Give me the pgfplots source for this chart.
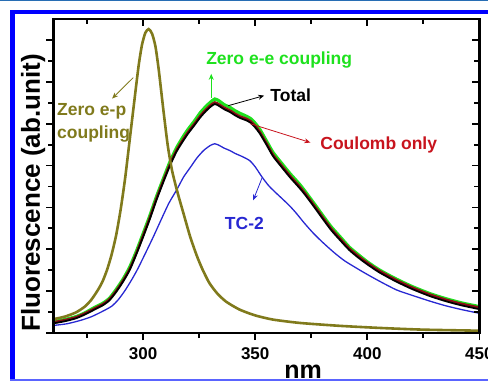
\documentclass[border=0pt]{standalone}
\usepackage{pgfplots}
\usepackage{pgfplotstable}
\pgfplotsset{compat=1.18}
\usepackage{fontspec}
\setmainfont{Liberation Sans}
\usetikzlibrary{arrows.meta}
\definecolor{olv}{RGB}{128,122,28}
\definecolor{grn}{RGB}{30,225,30}
\definecolor{rdd}{RGB}{200,20,30}
\definecolor{blu}{RGB}{40,40,210}
\definecolor{frameblue}{RGB}{0,0,255}
\definecolor{topblue}{RGB}{40,110,180}
\definecolor{botblue}{RGB}{90,100,255}

\pgfplotstableread{
x total coul zeroee
260 0.23 0.26 0.27
265 0.28 0.31 0.32
270 0.35 0.38 0.39
274 0.44 0.47 0.48
278 0.55 0.58 0.60
282 0.66 0.69 0.71
285 0.78 0.81 0.83
288 0.98 1.01 1.04
291 1.22 1.25 1.28
294 1.50 1.53 1.57
297 1.88 1.91 1.95
300 2.29 2.33 2.37
303 2.72 2.76 2.80
306 3.18 3.22 3.26
309 3.60 3.64 3.68
312 4.00 4.04 4.09
315 4.34 4.38 4.43
318 4.60 4.64 4.70
320 4.76 4.80 4.86
323 4.97 5.01 5.07
325.5 5.15 5.19 5.26
328 5.30 5.34 5.41
330 5.40 5.44 5.51
332 5.47 5.51 5.59
334 5.42 5.46 5.54
336 5.35 5.39 5.46
339 5.27 5.31 5.38
341 5.20 5.24 5.31
343.5 5.13 5.17 5.24
346 5.08 5.12 5.18
348 5.02 5.06 5.12
350 4.91 4.95 5.01
352 4.77 4.81 4.87
355 4.50 4.54 4.59
358 4.22 4.26 4.31
362 3.95 3.99 4.04
365.5 3.72 3.76 3.81
370 3.45 3.49 3.54
373 3.25 3.29 3.33
377 2.96 3.00 3.04
380.5 2.70 2.74 2.78
384 2.45 2.49 2.53
388 2.21 2.25 2.29
392 1.98 2.02 2.05
396 1.80 1.84 1.87
400 1.64 1.68 1.70
405 1.46 1.50 1.52
410 1.31 1.35 1.37
414 1.20 1.24 1.26
420 1.05 1.09 1.11
428 0.88 0.92 0.94
435 0.76 0.80 0.82
442 0.66 0.70 0.72
450 0.57 0.61 0.63
}\mixtable

\pgfplotstableread{
x y
260 0.18
266 0.22
272 0.30
277 0.39
282 0.52
286 0.64
289 0.80
292 1.02
295 1.28
297.5 1.52
301 1.90
304.5 2.29
308 2.70
311.5 3.10
315 3.42
318 3.72
321 3.95
324 4.18
327 4.36
330 4.48
332 4.52
334 4.48
336 4.42
339 4.35
341 4.29
344 4.22
347.5 4.12
350 3.97
353 3.73
356 3.52
359 3.36
362 3.21
365.5 3.03
368.5 2.85
372 2.62
376 2.38
380 2.17
385 1.93
390 1.72
398 1.46
405 1.25
413 1.03
420 0.90
428 0.76
435 0.65
442 0.56
450 0.47
}\tctwo

\pgfplotstableread{
x y
260 0.33
265 0.39
270 0.49
274 0.63
277 0.80
280 1.04
282 1.24
284 1.52
286 1.88
288 2.34
290 2.95
292 3.70
294 4.60
296 5.50
298 6.38
299.5 6.88
301 7.17
302.5 7.26
304 7.15
305.5 6.85
307 6.28
309 5.35
311 4.48
313 3.86
315.5 3.33
318 2.86
321 2.30
324 1.84
326.5 1.52
329.5 1.20
333 0.95
337 0.75
343 0.56
350 0.42
358 0.32
370 0.24
388 0.17
406 0.12
425 0.08
450 0.055
}\zeroep

\begin{document}
\begin{tikzpicture}[x=1pt,y=1pt]
\path[use as bounding box] (-53.4,-48) rectangle (434.6,333);
\begin{scope}
\clip (-53.4,-48) rectangle (434.6,333);
\begin{axis}[
  at={(0,0)}, anchor=south west,
  scale only axis, width=426pt, height=314pt,
  xmin=260, xmax=450, ymin=0, ymax=7.5,
  xtick={300,350,400,450}, minor xtick={275,325,375,425},
  ytick={0,1,2,3,4,5,6,7}, minor ytick={0.5,1.5,2.5,3.5,4.5,5.5,6.5},
  yticklabels={},
  xtick pos=left, ytick pos=left,
  tick align=outside,
  major tick length=7pt, minor tick length=5pt,
  every tick/.style={black, line width=1.8pt},
  every minor tick/.style={black, line width=1.8pt},
  axis line style={line width=2.6pt},
  /pgf/number format/assume math mode=true,
  xticklabel style={font=\bfseries\fontsize{17}{17}\selectfont, inner sep=0pt, yshift=-7pt},
  xlabel={nm},
  xlabel style={at={(axis description cs:0.586,0)}, anchor=north, yshift=-32pt, inner sep=0pt, font=\bfseries\fontsize{25}{25}\selectfont},
  ylabel={Fluorescence (ab.unit)},
  ylabel style={at={(axis description cs:-0.0315,0.446)}, anchor=base, inner sep=0pt, font=\bfseries\fontsize{26}{26}\selectfont},
  clip=true,
]
\addplot[grn, line width=3.2pt, smooth, tension=0.4] table[x=x, y=zeroee] {\mixtable};
\addplot[rdd!70!black, line width=2.2pt, smooth, tension=0.4] table[x=x, y=coul] {\mixtable};
\addplot[black, line width=1.8pt, smooth, tension=0.4] table[x=x, y=total] {\mixtable};
\addplot[blu, line width=1.3pt, smooth, tension=0.4] table[x=x, y=y] {\tctwo};
\addplot[olv, line width=2.6pt, smooth, tension=0.4] table[x=x, y=y] {\zeroep};

\node[anchor=west, align=left, text=olv, inner sep=0pt, font=\bfseries\fontsize{17.5}{23}\selectfont] at (axis cs:261.6,5.02) {Zero e-p\\coupling};
\draw[olv, line width=0.8pt, -{Stealth[length=6pt,width=5pt]}] (axis cs:295.6,6.1) -- (axis cs:286.2,5.6);
\node[anchor=center, text=grn, inner sep=0pt, font=\bfseries\fontsize{17.5}{17.5}\selectfont] at (axis cs:360.7,6.52) {Zero e-e coupling};
\draw[grn, line width=0.8pt, -{Stealth[length=6pt,width=5pt]}] (axis cs:330.4,5.62) -- (axis cs:330.4,6.19);
\node[anchor=west, text=black, inner sep=0pt, font=\bfseries\fontsize{17.5}{17.5}\selectfont] at (axis cs:356.7,5.67) {Total};
\draw[black, line width=0.8pt, -{Stealth[length=6pt,width=5pt]}] (axis cs:338,5.43) -- (axis cs:354,5.67);
\node[anchor=west, text=rdd, inner sep=0pt, font=\bfseries\fontsize{17.5}{17.5}\selectfont] at (axis cs:379,4.5) {Coulomb only};
\draw[rdd, line width=0.8pt, -{Stealth[length=6pt,width=5pt]}] (axis cs:347.8,5.0) -- (axis cs:374.6,4.55);
\node[anchor=center, text=blu, inner sep=0pt, font=\bfseries\fontsize{17.5}{17.5}\selectfont] at (axis cs:345.2,2.62) {TC-2};
\draw[blu, line width=0.8pt, -{Stealth[length=6pt,width=5pt]}] (axis cs:353.1,3.71) -- (axis cs:349.1,3.17);
\end{axis}
\begin{axis}[
  at={(0,0)}, anchor=south west,
  scale only axis, width=426pt, height=314pt,
  xmin=260, xmax=450, ymin=0, ymax=7.5,
  xtick={300,350,400,450}, minor xtick={275,325,375,425},
  ytick={0,1,2,3,4,5,6,7}, minor ytick={0.5,1.5,2.5,3.5,4.5,5.5,6.5},
  xticklabels={}, yticklabels={},
  xtick pos=right, ytick pos=right,
  tick align=inside,
  major tick length=7pt, minor tick length=5pt,
  every tick/.style={black, line width=1.8pt},
  every minor tick/.style={black, line width=1.8pt},
  axis line style={line width=2.6pt},
]
\end{axis}
\fill[topblue] (-53.4,333) rectangle (434.6,331.6);
\fill[frameblue] (-43.4,323) rectangle (434.6,319);
\fill[frameblue] (-43.4,323) rectangle (-38.4,-48);
\fill[botblue] (-43.4,-46.3) rectangle (434.6,-48);
\end{scope}
\end{tikzpicture}
\end{document}
